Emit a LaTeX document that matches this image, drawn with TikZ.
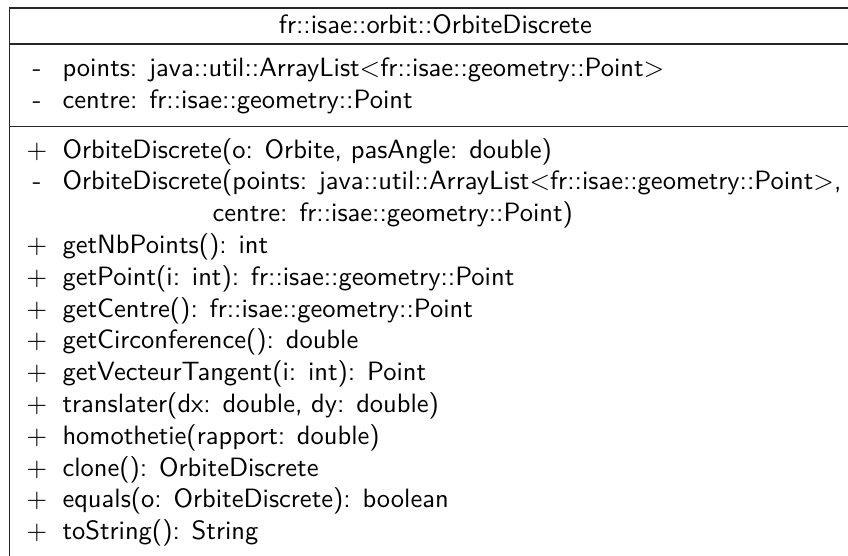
\documentclass[tikz,border=0pt]{standalone}
\begin{document}
\begin{tikzpicture}[x=0.37736pt,y=-0.37736pt,font=\sffamily,
  txt/.style={inner sep=0pt,anchor=base west},
  vis/.style={inner sep=0pt,anchor=base},
  frame/.style={draw=black!85,line width=0.5pt}]
\useasboundingbox (0,0) rectangle (848,555);
\clip (0,0) rectangle (848,555);
\draw[frame] (9.5,8) rectangle (861,558);
\draw[frame] (9.5,44) -- (861,44);
\draw[frame] (9.5,126.5) -- (861,126.5);
\node[vis] (title) at (435.4,33) {fr::isae::orbit::OrbiteDiscrete};
% attributes
\node[vis] (va1) at (37,76.5) {-};
\node[txt] (a1) at (62,76.5) {points: java::util::ArrayList$<$fr::isae::geometry::Point$>$};
\node[vis] (va2) at (37,108.3) {-};
\node[txt] (a2) at (62,108.3) {centre: fr::isae::geometry::Point};
% methods
\node[vis] (v0) at (37,158) {$+$};
\node[txt] (m0) at (62,158) {OrbiteDiscrete(o: Orbite, pasAngle: double)};
\node[vis] (v1) at (37,189.8) {-};
\node[txt] (m1) at (62,189.8) {OrbiteDiscrete(points: java::util::ArrayList$<$fr::isae::geometry::Point$>$,};
\node[txt] (m2) at (212,221.6) {centre: fr::isae::geometry::Point)};
\node[vis] (v3) at (37,253.4) {$+$};
\node[txt] (m3) at (62,253.4) {getNbPoints(): int};
\node[vis] (v4) at (37,285.2) {$+$};
\node[txt] (m4) at (62,285.2) {getPoint(i: int): fr::isae::geometry::Point};
\node[vis] (v5) at (37,317) {$+$};
\node[txt] (m5) at (62,317) {getCentre(): fr::isae::geometry::Point};
\node[vis] (v6) at (37,348.8) {$+$};
\node[txt] (m6) at (62,348.8) {getCirconference(): double};
\node[vis] (v7) at (37,380.6) {$+$};
\node[txt] (m7) at (62,380.6) {getVecteurTangent(i: int): Point};
\node[vis] (v8) at (37,412.4) {$+$};
\node[txt] (m8) at (62,412.4) {translater(dx: double, dy: double)};
\node[vis] (v9) at (37,444.2) {$+$};
\node[txt] (m9) at (62,444.2) {homothetie(rapport: double)};
\node[vis] (v10) at (37,476) {$+$};
\node[txt] (m10) at (62,476) {clone(): OrbiteDiscrete};
\node[vis] (v11) at (37,507.8) {$+$};
\node[txt] (m11) at (62,507.8) {equals(o: OrbiteDiscrete): boolean};
\node[vis] (v12) at (37,539.6) {$+$};
\node[txt] (m12) at (62,539.6) {toString(): String};
\end{tikzpicture}
\end{document}
